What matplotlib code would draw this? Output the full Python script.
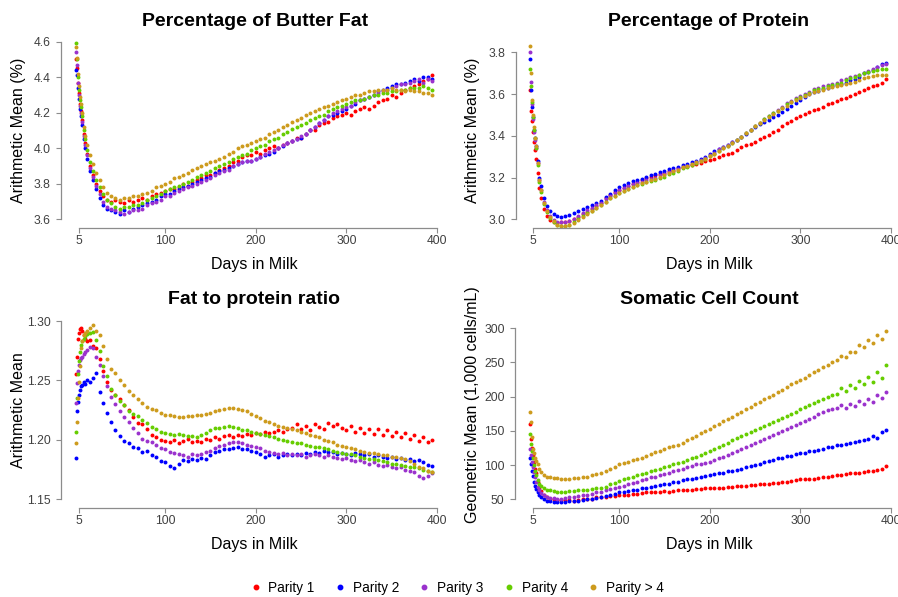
import matplotlib
matplotlib.use("Agg")
import matplotlib.pyplot as plt
from matplotlib.lines import Line2D

plt.rcParams['font.family'] = ['Liberation Sans', 'DejaVu Sans']

days = [2, 3, 4, 5, 6, 7, 8, 10, 12, 14, 17, 20, 24, 28, 32, 36] + list(range(40, 400, 5))

parities = ["Parity 1", "Parity 2", "Parity 3", "Parity 4", "Parity > 4"]
colors = ["#FF0000", "#0000FF", "#9A32CD", "#66CD00", "#CD9B1D"]

# ---- butter fat (%) ----
fat_p1 = [4.50, 4.45, 4.37, 4.31, 4.25, 4.21, 4.16, 4.08, 4.03, 3.97, 3.90, 3.85, 3.80, 3.76, 3.73, 3.71,
          3.70, 3.71, 3.70, 3.69, 3.71, 3.70, 3.71, 3.72, 3.71, 3.73,
          3.74, 3.75, 3.76, 3.77, 3.77, 3.78, 3.80, 3.79, 3.81, 3.82,
          3.83, 3.85, 3.85, 3.86, 3.88, 3.89, 3.90, 3.92, 3.93, 3.95,
          3.96, 3.96, 3.98, 3.97, 3.99, 4.00, 4.01, 4.00, 4.02, 4.03,
          4.04, 4.06, 4.06, 4.08, 4.10, 4.10, 4.13, 4.14, 4.15, 4.17,
          4.18, 4.19, 4.20, 4.19, 4.21, 4.22, 4.23, 4.22, 4.24, 4.26,
          4.27, 4.28, 4.30, 4.29, 4.31, 4.33, 4.34, 4.35, 4.36, 4.38,
          4.39, 4.41]
fat_p2 = [4.44, 4.41, 4.34, 4.28, 4.22, 4.18, 4.13, 4.05, 4.00, 3.94, 3.87, 3.82, 3.77, 3.72, 3.68, 3.66,
          3.65, 3.64, 3.63, 3.65, 3.64, 3.66, 3.67, 3.68, 3.69, 3.70,
          3.71, 3.73, 3.74, 3.74, 3.76, 3.77, 3.78, 3.79, 3.80, 3.81,
          3.82, 3.83, 3.84, 3.86, 3.87, 3.88, 3.89, 3.90, 3.91, 3.92,
          3.93, 3.93, 3.94, 3.95, 3.96, 3.97, 3.98, 4.00, 4.01, 4.03,
          4.04, 4.05, 4.06, 4.08, 4.10, 4.12, 4.14, 4.16, 4.18, 4.19,
          4.20, 4.21, 4.22, 4.24, 4.25, 4.27, 4.28, 4.29, 4.30, 4.32,
          4.33, 4.34, 4.35, 4.36, 4.36, 4.37, 4.38, 4.39, 4.38, 4.40,
          4.40, 4.39]
fat_p3 = [4.54, 4.47, 4.37, 4.30, 4.24, 4.20, 4.15, 4.07, 4.02, 3.96, 3.89, 3.84, 3.79, 3.74, 3.70, 3.67,
          3.66, 3.65, 3.64, 3.63, 3.64, 3.65, 3.65, 3.66, 3.68, 3.69,
          3.70, 3.71, 3.73, 3.73, 3.75, 3.76, 3.77, 3.78, 3.79, 3.80,
          3.81, 3.82, 3.83, 3.85, 3.86, 3.87, 3.88, 3.90, 3.91, 3.92,
          3.93, 3.93, 3.94, 3.95, 3.97, 3.98, 3.99, 4.00, 4.02, 4.03,
          4.04, 4.05, 4.07, 4.08, 4.10, 4.12, 4.14, 4.16, 4.18, 4.20,
          4.21, 4.22, 4.23, 4.24, 4.26, 4.27, 4.28, 4.29, 4.30, 4.31,
          4.32, 4.33, 4.34, 4.35, 4.36, 4.36, 4.37, 4.38, 4.39, 4.37,
          4.39, 4.38]
fat_p4 = [4.59, 4.50, 4.40, 4.33, 4.27, 4.23, 4.18, 4.10, 4.05, 3.99, 3.92, 3.87, 3.82, 3.78, 3.74, 3.71,
          3.69, 3.67, 3.66, 3.67, 3.67, 3.68, 3.68, 3.69, 3.71, 3.72,
          3.73, 3.74, 3.76, 3.77, 3.78, 3.79, 3.80, 3.81, 3.82, 3.84,
          3.85, 3.86, 3.87, 3.89, 3.90, 3.91, 3.92, 3.94, 3.95, 3.96,
          3.97, 3.99, 4.00, 4.01, 4.02, 4.04, 4.05, 4.06, 4.08, 4.09,
          4.11, 4.12, 4.13, 4.14, 4.16, 4.17, 4.18, 4.19, 4.21, 4.22,
          4.23, 4.24, 4.25, 4.26, 4.27, 4.27, 4.28, 4.29, 4.30, 4.30,
          4.31, 4.31, 4.32, 4.32, 4.33, 4.33, 4.34, 4.34, 4.34, 4.35,
          4.34, 4.33]
fat_p5 = [4.57, 4.51, 4.42, 4.35, 4.29, 4.25, 4.20, 4.12, 4.07, 4.02, 3.96, 3.91, 3.86, 3.82, 3.78, 3.75,
          3.73, 3.72, 3.71, 3.72, 3.72, 3.73, 3.73, 3.74, 3.75, 3.76,
          3.78, 3.79, 3.80, 3.81, 3.83, 3.84, 3.85, 3.86, 3.88, 3.89,
          3.90, 3.91, 3.92, 3.93, 3.94, 3.95, 3.97, 3.98, 4.00, 4.01,
          4.02, 4.03, 4.04, 4.05, 4.06, 4.08, 4.09, 4.10, 4.12, 4.13,
          4.15, 4.16, 4.17, 4.19, 4.20, 4.21, 4.22, 4.23, 4.24, 4.25,
          4.26, 4.27, 4.28, 4.29, 4.30, 4.30, 4.31, 4.32, 4.32, 4.33,
          4.33, 4.33, 4.34, 4.33, 4.33, 4.32, 4.33, 4.32, 4.32, 4.31,
          4.31, 4.30]

# ---- protein (%) ----
prot_p1 = [3.62, 3.52, 3.47, 3.42, 3.37, 3.33, 3.29, 3.22, 3.15, 3.10, 3.05, 3.015, 2.995, 2.985, 2.98, 2.985,
           2.985, 2.99, 3.00, 3.01, 3.025, 3.035, 3.05, 3.065, 3.08, 3.10,
           3.115, 3.13, 3.14, 3.15, 3.16, 3.17, 3.18, 3.19, 3.20, 3.205,
           3.21, 3.215, 3.22, 3.23, 3.235, 3.245, 3.25, 3.255, 3.26, 3.265,
           3.27, 3.28, 3.285, 3.29, 3.30, 3.31, 3.315, 3.32, 3.33, 3.345,
           3.355, 3.36, 3.37, 3.385, 3.395, 3.405, 3.42, 3.43, 3.445, 3.46,
           3.47, 3.485, 3.495, 3.505, 3.515, 3.525, 3.53, 3.54, 3.55, 3.555,
           3.565, 3.575, 3.58, 3.59, 3.60, 3.61, 3.62, 3.63, 3.64, 3.645,
           3.655, 3.67]
prot_p2 = [3.77, 3.62, 3.54, 3.49, 3.43, 3.39, 3.35, 3.28, 3.20, 3.16, 3.10, 3.065, 3.04, 3.025, 3.015, 3.012,
           3.015, 3.02, 3.03, 3.04, 3.05, 3.06, 3.07, 3.08, 3.09, 3.105,
           3.12, 3.14, 3.155, 3.165, 3.175, 3.185, 3.19, 3.195, 3.205, 3.21,
           3.215, 3.225, 3.23, 3.24, 3.245, 3.25, 3.26, 3.265, 3.275, 3.28,
           3.29, 3.30, 3.315, 3.325, 3.335, 3.345, 3.355, 3.37, 3.38, 3.395,
           3.41, 3.43, 3.44, 3.455, 3.465, 3.475, 3.49, 3.50, 3.515, 3.53,
           3.545, 3.555, 3.57, 3.585, 3.60, 3.61, 3.615, 3.625, 3.63, 3.64,
           3.645, 3.65, 3.655, 3.665, 3.67, 3.68, 3.70, 3.705, 3.715, 3.73,
           3.745, 3.75]
prot_p3 = [3.80, 3.66, 3.55, 3.48, 3.42, 3.38, 3.34, 3.27, 3.19, 3.14, 3.085, 3.045, 3.015, 2.995, 2.985, 2.985,
           2.985, 2.99, 3.00, 3.015, 3.03, 3.045, 3.055, 3.07, 3.08, 3.095,
           3.11, 3.125, 3.14, 3.15, 3.16, 3.17, 3.175, 3.18, 3.19, 3.195,
           3.20, 3.21, 3.215, 3.225, 3.23, 3.24, 3.25, 3.255, 3.265, 3.275,
           3.285, 3.295, 3.31, 3.32, 3.335, 3.345, 3.355, 3.37, 3.38, 3.395,
           3.415, 3.43, 3.445, 3.46, 3.48, 3.495, 3.51, 3.525, 3.54, 3.555,
           3.565, 3.58, 3.59, 3.60, 3.61, 3.625, 3.63, 3.64, 3.645, 3.65,
           3.655, 3.665, 3.67, 3.68, 3.685, 3.69, 3.70, 3.71, 3.72, 3.73,
           3.74, 3.745]
prot_p4 = [3.72, 3.64, 3.56, 3.49, 3.43, 3.39, 3.34, 3.26, 3.18, 3.13, 3.075, 3.035, 3.005, 2.985, 2.975, 2.97,
           2.97, 2.975, 2.985, 3.00, 3.015, 3.03, 3.04, 3.055, 3.07, 3.085,
           3.10, 3.11, 3.125, 3.135, 3.145, 3.155, 3.165, 3.17, 3.18, 3.185,
           3.19, 3.20, 3.205, 3.215, 3.22, 3.23, 3.245, 3.25, 3.26, 3.27,
           3.28, 3.29, 3.305, 3.315, 3.325, 3.34, 3.35, 3.365, 3.38, 3.395,
           3.415, 3.43, 3.445, 3.46, 3.48, 3.495, 3.51, 3.52, 3.535, 3.55,
           3.56, 3.575, 3.585, 3.595, 3.605, 3.62, 3.625, 3.63, 3.64, 3.645,
           3.65, 3.655, 3.665, 3.675, 3.68, 3.69, 3.70, 3.705, 3.71, 3.715,
           3.72, 3.72]
prot_p5 = [3.83, 3.70, 3.57, 3.50, 3.44, 3.39, 3.35, 3.27, 3.19, 3.14, 3.08, 3.04, 3.01, 2.99, 2.975, 2.97,
           2.97, 2.975, 2.98, 2.995, 3.01, 3.025, 3.04, 3.055, 3.07, 3.085,
           3.10, 3.11, 3.125, 3.135, 3.145, 3.155, 3.165, 3.175, 3.18, 3.19,
           3.195, 3.205, 3.21, 3.22, 3.23, 3.235, 3.25, 3.255, 3.265, 3.275,
           3.28, 3.29, 3.305, 3.315, 3.325, 3.34, 3.35, 3.365, 3.38, 3.395,
           3.415, 3.43, 3.445, 3.46, 3.475, 3.49, 3.505, 3.52, 3.535, 3.545,
           3.56, 3.57, 3.58, 3.59, 3.60, 3.61, 3.615, 3.62, 3.63, 3.635,
           3.64, 3.645, 3.65, 3.655, 3.66, 3.665, 3.675, 3.68, 3.685, 3.69,
           3.69, 3.69]

# ---- fat to protein ratio ----
fpr_p1 = [1.255, 1.270, 1.285, 1.290, 1.293, 1.294, 1.292, 1.288, 1.285, 1.283, 1.284, 1.279, 1.277, 1.268, 1.258, 1.249,
          1.242, 1.238, 1.234, 1.229, 1.225, 1.219, 1.214, 1.213, 1.209, 1.204,
          1.202, 1.200, 1.199, 1.198, 1.200, 1.197, 1.199, 1.201, 1.198, 1.199,
          1.198, 1.201, 1.200, 1.202, 1.201, 1.203, 1.204, 1.202, 1.204, 1.203,
          1.205, 1.204, 1.206, 1.205, 1.207, 1.206, 1.207, 1.208, 1.207, 1.209,
          1.210, 1.213, 1.209, 1.212, 1.208, 1.213, 1.211, 1.209, 1.214, 1.212,
          1.213, 1.210, 1.208, 1.212, 1.207, 1.210, 1.206, 1.209, 1.205, 1.209,
          1.204, 1.208, 1.203, 1.207, 1.202, 1.206, 1.201, 1.204, 1.199, 1.202,
          1.198, 1.200]
fpr_p2 = [1.185, 1.224, 1.232, 1.238, 1.242, 1.245, 1.246, 1.249, 1.247, 1.250, 1.249, 1.252, 1.256, 1.240, 1.231, 1.223,
          1.215, 1.208, 1.203, 1.199, 1.197, 1.194, 1.193, 1.190, 1.191, 1.187,
          1.186, 1.182, 1.181, 1.178, 1.176, 1.180, 1.183, 1.182, 1.184, 1.183,
          1.185, 1.184, 1.187, 1.190, 1.191, 1.192, 1.192, 1.193, 1.194, 1.192,
          1.192, 1.191, 1.190, 1.188, 1.186, 1.187, 1.188, 1.186, 1.187, 1.188,
          1.187, 1.188, 1.187, 1.189, 1.188, 1.190, 1.189, 1.191, 1.190, 1.190,
          1.188, 1.189, 1.188, 1.187, 1.189, 1.188, 1.187, 1.188, 1.186, 1.187,
          1.186, 1.185, 1.186, 1.184, 1.185, 1.183, 1.184, 1.182, 1.183, 1.181,
          1.179, 1.178]
fpr_p3 = [1.231, 1.248, 1.258, 1.263, 1.267, 1.269, 1.270, 1.272, 1.274, 1.276, 1.278, 1.277, 1.270, 1.263, 1.254, 1.245,
          1.236, 1.230, 1.224, 1.219, 1.215, 1.210, 1.206, 1.201, 1.199, 1.198,
          1.196, 1.193, 1.192, 1.190, 1.189, 1.188, 1.187, 1.186, 1.188, 1.187,
          1.188, 1.190, 1.191, 1.193, 1.195, 1.196, 1.197, 1.198, 1.198, 1.197,
          1.196, 1.195, 1.194, 1.193, 1.191, 1.190, 1.189, 1.188, 1.189, 1.187,
          1.188, 1.187, 1.188, 1.186, 1.187, 1.188, 1.187, 1.186, 1.187, 1.186,
          1.185, 1.184, 1.185, 1.183, 1.182, 1.183, 1.181, 1.180, 1.181, 1.179,
          1.178, 1.179, 1.177, 1.176, 1.177, 1.175, 1.174, 1.173, 1.170, 1.168,
          1.170, 1.172]
fpr_p4 = [1.207, 1.235, 1.255, 1.266, 1.274, 1.280, 1.283, 1.285, 1.287, 1.289, 1.290, 1.291, 1.284, 1.275, 1.262, 1.254,
          1.243, 1.238, 1.233, 1.229, 1.224, 1.222, 1.220, 1.217, 1.214, 1.211,
          1.209, 1.207, 1.206, 1.205, 1.204, 1.205, 1.204, 1.203, 1.203, 1.202,
          1.204, 1.206, 1.208, 1.210, 1.210, 1.211, 1.212, 1.211, 1.210, 1.208,
          1.208, 1.207, 1.206, 1.205, 1.204, 1.203, 1.202, 1.201, 1.200, 1.199,
          1.198, 1.197, 1.197, 1.196, 1.195, 1.194, 1.194, 1.193, 1.192, 1.191,
          1.190, 1.189, 1.188, 1.188, 1.187, 1.186, 1.185, 1.184, 1.184, 1.183,
          1.182, 1.181, 1.180, 1.180, 1.179, 1.178, 1.177, 1.177, 1.176, 1.175,
          1.174, 1.173]
fpr_p5 = [1.197, 1.215, 1.235, 1.249, 1.262, 1.277, 1.283, 1.288, 1.290, 1.292, 1.294, 1.297, 1.292, 1.288, 1.279, 1.268,
          1.260, 1.256, 1.250, 1.246, 1.241, 1.238, 1.234, 1.231, 1.228, 1.226,
          1.225, 1.223, 1.221, 1.221, 1.220, 1.219, 1.219, 1.220, 1.220, 1.221,
          1.221, 1.222, 1.223, 1.224, 1.225, 1.226, 1.227, 1.227, 1.226, 1.225,
          1.224, 1.222, 1.220, 1.218, 1.216, 1.215, 1.213, 1.212, 1.211, 1.210,
          1.209, 1.208, 1.207, 1.206, 1.204, 1.203, 1.202, 1.200, 1.199, 1.198,
          1.196, 1.195, 1.194, 1.193, 1.192, 1.191, 1.190, 1.189, 1.189, 1.188,
          1.187, 1.187, 1.186, 1.186, 1.185, 1.184, 1.182, 1.180, 1.177, 1.176,
          1.174, 1.173]

# ---- somatic cell count (1,000 cells/mL) ----
scc_p1 = [160, 138, 125, 115, 105, 95, 88, 76, 68, 62, 56, 53, 51, 50, 49, 49,
          49, 49, 48, 49, 50, 51, 51, 53, 53, 54,
          55, 55, 56, 57, 56, 58, 58, 59, 60, 60,
          61, 61, 62, 61, 62, 63, 63, 64, 64, 65,
          65, 66, 66, 66, 67, 67, 68, 68, 69, 69,
          70, 71, 71, 72, 73, 73, 74, 74, 75, 76,
          77, 78, 79, 79, 80, 80, 81, 82, 83, 84,
          85, 86, 87, 88, 88, 89, 90, 91, 92, 93,
          95, 98]
scc_p2 = [110, 101, 92, 84, 76, 70, 65, 60, 56, 53, 50, 48, 47, 46, 46, 46,
          46, 47, 47, 48, 49, 50, 51, 52, 54, 55,
          57, 58, 60, 61, 62, 63, 64, 66, 67, 68,
          69, 71, 72, 73, 75, 76, 78, 79, 80, 81,
          83, 84, 86, 87, 88, 89, 91, 92, 93, 95,
          97, 99, 100, 102, 104, 106, 108, 110, 111, 113,
          114, 116, 117, 118, 120, 121, 122, 124, 126, 127,
          129, 130, 131, 132, 134, 135, 136, 138, 142, 140,
          148, 152]
scc_p3 = [124, 115, 105, 97, 90, 82, 76, 68, 63, 59, 56, 54, 52, 52, 51, 51,
          52, 53, 54, 55, 56, 57, 58, 60, 61, 63,
          65, 66, 68, 70, 72, 74, 76, 78, 80, 82,
          83, 85, 87, 89, 91, 93, 95, 97, 99, 101,
          102, 103, 105, 107, 110, 112, 115, 117, 120, 123,
          126, 129, 132, 135, 138, 141, 144, 147, 150, 153,
          156, 159, 162, 165, 168, 171, 174, 177, 180, 182,
          183, 188, 184, 190, 187, 193, 189, 197, 192, 203,
          198, 207]
scc_p4 = [146, 131, 120, 110, 100, 92, 86, 78, 73, 69, 66, 64, 63, 62, 61, 61,
          61, 62, 62, 63, 63, 64, 65, 66, 67, 68,
          72, 74, 77, 79, 81, 83, 85, 87, 89, 91,
          93, 95, 97, 99, 101, 103, 105, 107, 110, 112,
          115, 118, 121, 124, 127, 130, 133, 136, 139, 142,
          145, 148, 151, 154, 157, 160, 163, 166, 169, 172,
          175, 178, 182, 185, 188, 191, 194, 197, 200, 203,
          204, 212, 208, 217, 213, 223, 218, 229, 222, 236,
          228, 246]
scc_p5 = [178, 163, 141, 124, 117, 110, 106, 101, 95, 90, 85, 83, 82, 81, 81, 80,
          80, 80, 81, 81, 82, 83, 85, 87, 89, 92,
          94, 97, 101, 103, 105, 107, 109, 111, 113, 116,
          119, 121, 123, 126, 128, 130, 133, 136, 139, 143,
          147, 150, 153, 157, 160, 164, 167, 171, 174, 178,
          182, 185, 189, 192, 196, 199, 203, 207, 210, 214,
          218, 221, 225, 228, 232, 236, 239, 243, 246, 250,
          254, 260, 258, 266, 265, 275, 272, 283, 278, 290,
          285, 296]

x_ticks = [5, 100, 200, 300, 400]
fat_ticks = [3.6, 3.8, 4.0, 4.2, 4.4, 4.6]
prot_ticks = [3.0, 3.2, 3.4, 3.6, 3.8]
fpr_ticks = [1.15, 1.20, 1.25, 1.30]
scc_ticks = [50, 100, 150, 200, 250, 300]

W, H = 898.0, 597.0
AXIS_GREY = "#8c8c8c"
TICK_TXT = "#404040"

fig = plt.figure(figsize=(W / 100, H / 100), dpi=100)


def make_axes(box, xmap, ymap):
    # box is (left, right, top, bottom) in pixels; maps pin two data values to pixels
    l, r, t, b = box
    ax = fig.add_axes([l / W, 1 - b / H, (r - l) / W, (b - t) / H])
    (xv0, xp0), (xv1, xp1) = xmap
    sx = (xp1 - xp0) / (xv1 - xv0)
    ax.set_xlim(xv0 + (l - xp0) / sx, xv0 + (r - xp0) / sx)
    (yv0, yp0), (yv1, yp1) = ymap
    sy = (yp0 - yp1) / (yv1 - yv0)
    ax.set_ylim(yv0 - (b - yp0) / sy, yv0 + (yp0 - t) / sy)
    return ax


def fig_text(x, y, s, **kw):
    fig.text(x / W, 1 - y / H, s, ha="center", va="center", **kw)


panels = [
    dict(series=[fat_p1, fat_p2, fat_p3, fat_p4, fat_p5], ticks=fat_ticks, fmt="{:.1f}",
         title="Percentage of Butter Fat", ylabel="Arithmetic Mean (%)",
         box=(61, 442, 33, 227.7), xmap=((5, 79), (400, 437)), ymap=((3.6, 219.3), (4.6, 41.7)),
         title_xy=(255, 21), ylabel_xy=(19, 130), xlabel_xy=(254, 264)),
    dict(series=[prot_p1, prot_p2, prot_p3, prot_p4, prot_p5], ticks=prot_ticks, fmt="{:.1f}",
         title="Percentage of Protein", ylabel="Arithmetic Mean (%)",
         box=(515.7, 896, 33, 227.7), xmap=((5, 533), (400, 891)), ymap=((3.0, 219.3), (3.8, 52.3)),
         title_xy=(709, 21), ylabel_xy=(473, 130), xlabel_xy=(709, 264)),
    dict(series=[fpr_p1, fpr_p2, fpr_p3, fpr_p4, fpr_p5], ticks=fpr_ticks, fmt="{:.2f}",
         title="Fat to protein ratio", ylabel="Arithmetic Mean",
         box=(61, 442, 313, 508.3), xmap=((5, 79), (400, 437)), ymap=((1.15, 499.3), (1.30, 321)),
         title_xy=(254, 300), ylabel_xy=(19, 410), xlabel_xy=(254, 544)),
    dict(series=[scc_p1, scc_p2, scc_p3, scc_p4, scc_p5], ticks=scc_ticks, fmt="{:.0f}",
         title="Somatic Cell Count", ylabel="Geometric Mean (1,000 cells/mL)",
         box=(515, 896, 313, 508.3), xmap=((5, 533), (400, 891)), ymap=((50, 499.3), (300, 328.3)),
         title_xy=(709, 300), ylabel_xy=(472, 405), xlabel_xy=(709, 544)),
]

for p in panels:
    ax = make_axes(p["box"], p["xmap"], p["ymap"])
    for vals, c in zip(p["series"], colors):
        ax.scatter(days, vals, s=8, color=c, linewidths=0)
    for side in ["top", "right"]:
        ax.spines[side].set_visible(False)
    ax.spines["left"].set_bounds(p["ticks"][0], p["ticks"][-1])
    ax.spines["bottom"].set_bounds(x_ticks[0], x_ticks[-1])
    for side in ["left", "bottom"]:
        ax.spines[side].set_color(AXIS_GREY)
        ax.spines[side].set_linewidth(0.9)
    ax.set_xticks(x_ticks)
    ax.set_yticks(p["ticks"])
    ax.set_yticklabels([p["fmt"].format(t) for t in p["ticks"]])
    ax.tick_params(direction="out", length=3.5, width=0.8, color=AXIS_GREY,
                   labelsize=8.7, labelcolor=TICK_TXT)
    ax.tick_params(axis="y", pad=4)
    ax.tick_params(axis="x", pad=1.5)
    ax.patch.set_alpha(0)
    fig_text(*p["title_xy"], p["title"], fontsize=14, fontweight="bold")
    fig_text(*p["ylabel_xy"], p["ylabel"], fontsize=11.5, rotation=90)
    fig_text(*p["xlabel_xy"], "Days in Milk", fontsize=11.5)

handles = [Line2D([], [], marker="o", ls="", color=c, markersize=3.2) for c in colors]
fig.legend(handles, parities, loc="center", bbox_to_anchor=(457 / W, 1 - 588 / H), ncol=5,
           frameon=False, fontsize=9.8, handlelength=0.8, handletextpad=0.55, columnspacing=1.45)

fig.savefig("out.png", dpi=100)
